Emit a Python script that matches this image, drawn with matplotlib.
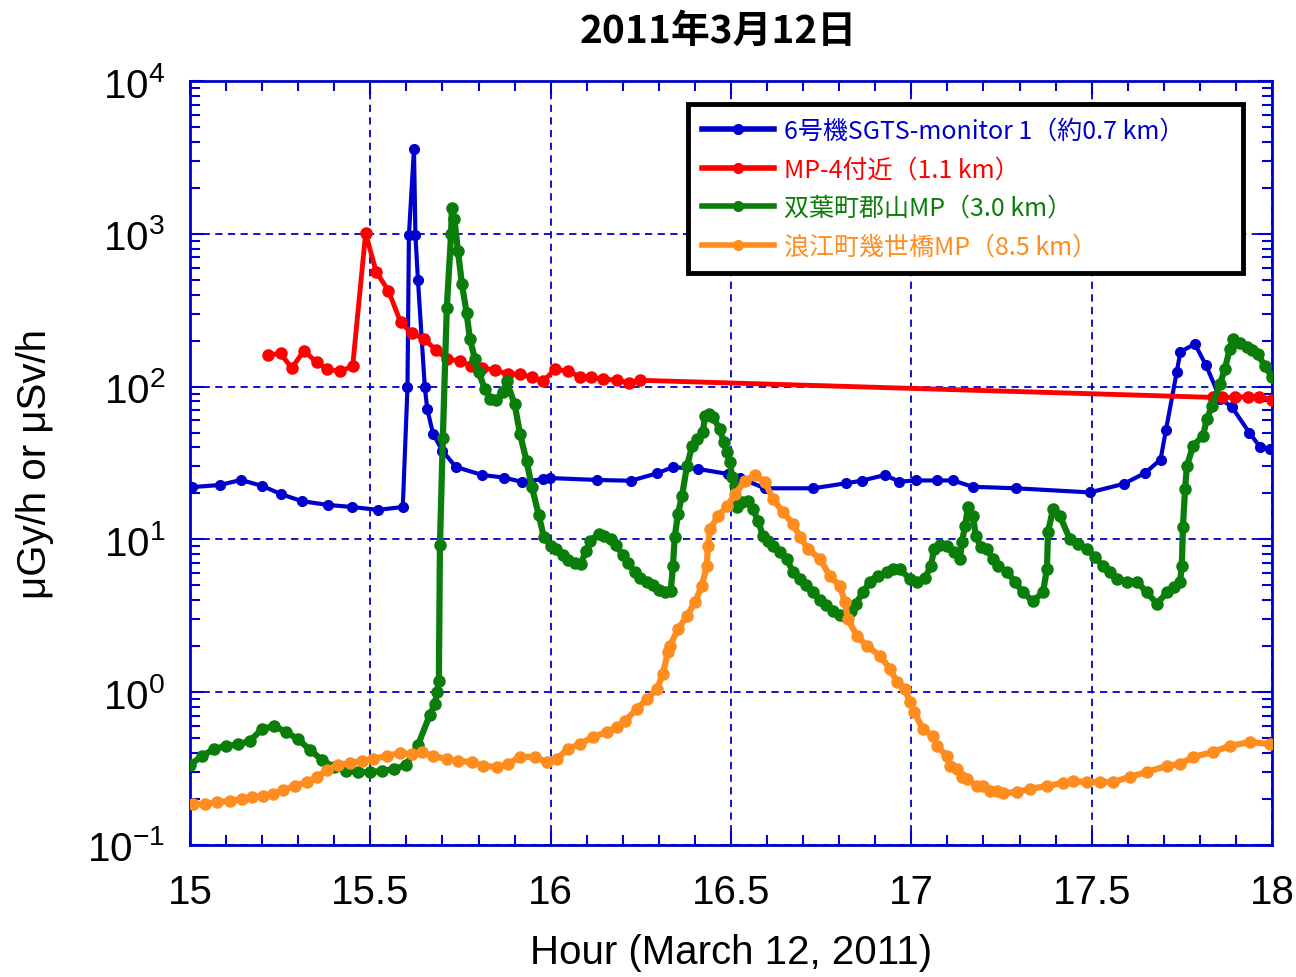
import matplotlib
matplotlib.use("Agg")
import matplotlib.pyplot as plt
from matplotlib.ticker import LogLocator, NullFormatter, MultipleLocator
from matplotlib.lines import Line2D

plt.rcParams['font.family'] = ['Liberation Sans', 'Noto Sans CJK JP', 'DejaVu Sans']
plt.rcParams['mathtext.fontset'] = 'custom'
plt.rcParams['mathtext.rm'] = 'Liberation Sans'
plt.rcParams['mathtext.it'] = 'Liberation Sans:italic'
plt.rcParams['mathtext.bf'] = 'Liberation Sans:bold'

# ---------------- data ----------------
blue_t = [15.006, 15.083, 15.141, 15.200, 15.252, 15.310, 15.383, 15.449, 15.521, 15.590,
          15.603, 15.607, 15.621, 15.625, 15.632, 15.651, 15.658, 15.674, 15.700, 15.737,
          15.810, 15.870, 15.920, 15.979, 15.998, 16.128, 16.222, 16.296, 16.338, 16.409,
          16.492, 16.525, 16.594, 16.728, 16.819, 16.862, 16.927, 16.966, 17.013, 17.070,
          17.116, 17.170, 17.290, 17.495, 17.589, 17.648, 17.691, 17.706, 17.736, 17.746,
          17.786, 17.817, 17.857, 17.888, 17.937, 17.966, 17.994]
blue_v = [22.0, 22.7, 24.5, 22.4, 19.8, 17.8, 16.8, 16.3, 15.6, 16.3,
          99, 980, 3600, 980, 500, 99, 71, 49, 38, 29.8,
          26.4, 25.4, 23.8, 24.8, 25.2, 24.5, 24.2, 27.1, 29.7, 28.9,
          26.8, 25.2, 21.6, 21.6, 23.3, 24.2, 26.4, 23.9, 24.3, 24.3,
          24.3, 22.1, 21.6, 20.3, 23.1, 27.2, 33.3, 52, 125, 169,
          190, 138, 83, 74, 50, 40.5, 39]

red_t = [15.217, 15.251, 15.282, 15.316, 15.351, 15.381, 15.416, 15.451, 15.487, 15.516,
         15.550, 15.584, 15.615, 15.649, 15.681, 15.712, 15.749, 15.779, 15.809, 15.846,
         15.882, 15.915, 15.947, 15.979, 16.012, 16.049, 16.081, 16.112, 16.145, 16.184,
         16.217, 16.248, 17.836, 17.861, 17.897, 17.934, 17.964, 18.000]
red_v = [161, 165, 132, 172, 144, 130, 126, 136, 1010, 565,
         425, 264, 223, 205, 174, 152, 147, 136, 133, 128,
         121, 121, 115, 108, 130, 126, 116, 115, 112, 110,
         106, 110, 85, 85, 85, 86, 86, 82]

green_t = [15.000, 15.033, 15.067, 15.100, 15.133, 15.166, 15.200, 15.233, 15.266, 15.299,
           15.333, 15.366, 15.399, 15.432, 15.466, 15.499, 15.532, 15.566, 15.599, 15.632,
           15.665, 15.679, 15.685, 15.690, 15.693, 15.701, 15.712, 15.724, 15.726, 15.733,
           15.743, 15.754, 15.767, 15.776, 15.790, 15.800, 15.818, 15.833, 15.848, 15.867,
           15.878, 15.900, 15.915, 15.933, 15.948, 15.967, 15.981, 16.000, 16.015, 16.033,
           16.048, 16.067, 16.083, 16.098, 16.109, 16.133, 16.148, 16.167, 16.181, 16.200,
           16.214, 16.233, 16.248, 16.267, 16.284, 16.300, 16.317, 16.333, 16.339, 16.344,
           16.353, 16.364, 16.378, 16.392, 16.406, 16.422, 16.428, 16.439, 16.450, 16.469,
           16.480, 16.489, 16.497, 16.503, 16.511, 16.516, 16.530, 16.547, 16.561, 16.575,
           16.589, 16.602, 16.616, 16.636, 16.655, 16.672, 16.691, 16.708, 16.727, 16.747,
           16.763, 16.783, 16.802, 16.819, 16.833, 16.846, 16.866, 16.885, 16.907, 16.932,
           16.949, 16.968, 16.996, 17.016, 17.038, 17.054, 17.063, 17.079, 17.099, 17.118,
           17.135, 17.140, 17.149, 17.157, 17.171, 17.179, 17.193, 17.210, 17.226, 17.240,
           17.265, 17.287, 17.309, 17.337, 17.365, 17.376, 17.379, 17.393, 17.412, 17.440,
           17.462, 17.487, 17.509, 17.531, 17.551, 17.570, 17.598, 17.625, 17.653, 17.681,
           17.709, 17.728, 17.745, 17.750, 17.753, 17.759, 17.764, 17.781, 17.808, 17.820,
           17.833, 17.856, 17.869, 17.883, 17.892, 17.911, 17.930, 17.944, 17.961, 17.980,
           18.000]
green_v = [0.334, 0.382, 0.425, 0.445, 0.455, 0.480, 0.574, 0.601, 0.549, 0.494,
           0.419, 0.360, 0.324, 0.305, 0.300, 0.300, 0.305, 0.314, 0.334, 0.451,
           0.710, 0.84, 1.0, 1.18, 9.2, 46, 327, 1000, 1476, 1250,
           771, 469, 303, 205, 152, 125, 96, 83, 82, 92,
           108, 77, 49, 32.6, 22, 14.4, 10.4, 9.06, 8.6, 7.9,
           7.3, 7.0, 6.9, 8.4, 9.8, 10.8, 10.6, 10.1, 9.2, 7.9,
           7.0, 6.1, 5.6, 5.3, 5.0, 4.7, 4.5, 4.6, 6.7, 10.4,
           14.7, 19.2, 30.2, 40.8, 45.4, 50.5, 64.2, 66, 63, 52.8,
           43.4, 37.3, 32.1, 25.6, 22.3, 16.3, 17.6, 17.8, 15.8, 13.2,
           10.5, 9.8, 9.1, 8.3, 7.4, 6.1, 5.5, 5.0, 4.5, 4.0,
           3.7, 3.4, 3.2, 3.1, 3.4, 3.8, 4.5, 5.3, 5.8, 6.1,
           6.4, 6.4, 5.5, 5.3, 5.6, 6.7, 8.6, 9.2, 9.1, 8.3,
           7.4, 9.6, 12.2, 16.3, 14.2, 10.5, 8.9, 8.6, 7.4, 6.7,
           6.1, 5.3, 4.5, 3.95, 4.5, 6.4, 11.2, 15.8, 14.2, 10.0,
           9.3, 8.6, 7.7, 6.7, 6.1, 5.5, 5.3, 5.3, 4.5, 3.8,
           4.5, 4.9, 5.3, 6.7, 12.1, 21.4, 30.2, 40.8, 47.5, 61.4,
           74.6, 104, 130, 176, 205, 193, 182, 174, 163, 136,
           116]

orange_t = [15.008, 15.042, 15.075, 15.111, 15.144, 15.172, 15.202, 15.230, 15.258, 15.291,
            15.324, 15.352, 15.380, 15.410, 15.444, 15.477, 15.507, 15.546, 15.582, 15.615,
            15.643, 15.674, 15.712, 15.743, 15.782, 15.812, 15.851, 15.882, 15.915, 15.956,
            15.990, 16.017, 16.048, 16.081, 16.117, 16.156, 16.184, 16.206, 16.239, 16.267,
            16.295, 16.311, 16.325, 16.331, 16.353, 16.378, 16.400, 16.419, 16.433, 16.436,
            16.442, 16.464, 16.489, 16.511, 16.539, 16.566, 16.594, 16.616, 16.644, 16.672,
            16.691, 16.713, 16.747, 16.774, 16.802, 16.816, 16.824, 16.849, 16.877, 16.913,
            16.941, 16.960, 16.982, 16.996, 17.008, 17.032, 17.060, 17.071, 17.099, 17.107,
            17.126, 17.140, 17.154, 17.182, 17.199, 17.218, 17.237, 17.254, 17.293, 17.329,
            17.376, 17.420, 17.448, 17.487, 17.523, 17.559, 17.606, 17.653, 17.709, 17.745,
            17.781, 17.836, 17.883, 17.939, 17.994]
orange_v = [0.185, 0.185, 0.191, 0.194, 0.200, 0.206, 0.209, 0.216, 0.229, 0.243,
            0.258, 0.279, 0.310, 0.334, 0.344, 0.355, 0.366, 0.382, 0.400, 0.394,
            0.406, 0.382, 0.366, 0.355, 0.349, 0.329, 0.324, 0.339, 0.377, 0.377,
            0.349, 0.366, 0.425, 0.458, 0.509, 0.549, 0.592, 0.648, 0.777, 0.903,
            1.05, 1.32, 1.83, 2.01, 2.59, 3.15, 3.89, 4.96, 6.70, 9.06,
            11.7, 14.2, 16.5, 19.8, 24.1, 26.4, 23.8, 18.4, 15.1, 12.6,
            10.4, 8.65, 7.44, 5.76, 4.96, 3.89, 3.01, 2.33, 2.01, 1.73,
            1.42, 1.17, 1.05, 0.863, 0.743, 0.574, 0.517, 0.445, 0.382, 0.329,
            0.314, 0.279, 0.270, 0.243, 0.243, 0.225, 0.225, 0.219, 0.222, 0.233,
            0.243, 0.255, 0.262, 0.258, 0.258, 0.258, 0.279, 0.301, 0.329, 0.339,
            0.377, 0.406, 0.445, 0.472, 0.458]

labels = ['6号機SGTS-monitor 1（約0.7 km）', 'MP-4付近（1.1 km）',
          '双葉町郡山MP（3.0 km）', '浪江町幾世橋MP（8.5 km）']
colors = ['#0000CD', '#FF0000', '#0A7D0A', '#FF8C1E']
xticks = [15, 15.5, 16, 16.5, 17, 17.5, 18]
xticklabels = ['15', '15.5', '16', '16.5', '17', '17.5', '18']
yticks = [0.1, 1, 10, 100, 1000, 10000]
yticklabels = [r'$\mathregular{10^{-1}}$', r'$\mathregular{10^{0}}$', r'$\mathregular{10^{1}}$',
               r'$\mathregular{10^{2}}$', r'$\mathregular{10^{3}}$', r'$\mathregular{10^{4}}$']

# ---------------- figure ----------------
fig = plt.figure(figsize=(12.96, 9.78), dpi=100)
ax = fig.add_axes([190/1296, 1-846/978, (1272-190)/1296, (846-82)/978])

series = [(blue_t, blue_v, 3.0, 7.0), (red_t, red_v, 3.5, 8.0),
          (green_t, green_v, 4.5, 8.0), (orange_t, orange_v, 4.5, 8.0)]
for (t, v, lw, ms), c in zip(series, colors):
    ax.plot(t, v, color=c, lw=lw, marker='o', ms=ms, mec=c, mfc=c, zorder=3)

ax.set_yscale('log')
ax.set_xlim(15, 18)
ax.set_ylim(0.1, 10000)

blue_ax = '#0000CC'
ax.set_xticks(xticks)
ax.set_xticklabels(xticklabels)
ax.xaxis.set_minor_locator(MultipleLocator(0.1))
ax.set_yticks(yticks)
ax.set_yticklabels(yticklabels)
ax.yaxis.set_minor_locator(LogLocator(base=10, subs=range(2, 10), numticks=20))
ax.yaxis.set_minor_formatter(NullFormatter())

ax.tick_params(which='both', direction='in', top=True, right=True, colors=blue_ax,
               labelcolor='black', width=1.5)
ax.tick_params(which='major', length=10, labelsize=29)
ax.tick_params(which='minor', length=7)
ax.tick_params(axis='x', which='major', pad=20)
ax.tick_params(axis='y', which='major', pad=18)

for s in ax.spines.values():
    s.set_color(blue_ax)
    s.set_linewidth(2)

ax.grid(True, which='major', color=blue_ax, linestyle=(0, (4, 3)), linewidth=1.3)
ax.set_axisbelow(True)

ax.set_xlabel('Hour (March 12, 2011)', fontsize=29, labelpad=16)
ax.set_ylabel('μGy/h or μSv/h', fontsize=29, labelpad=24)

fig.text(718/1296, 1-31/978, '2011年3月12日', ha='center', va='center', fontsize=28,
         fontweight='bold', family=['Noto Sans CJK JP', 'DejaVu Sans'])

handles = [Line2D([], [], color=c, lw=4, marker='o', ms=7, mec=c, mfc=c) for c in colors]
leg = ax.legend(handles, labels, loc='upper left',
                bbox_to_anchor=((688-190)/1082, (846-105)/764, (1243-688)/1082, 0.0),
                mode='expand', frameon=True, fancybox=False, framealpha=1,
                edgecolor='black', handlelength=2.9, handletextpad=0.4,
                borderpad=0.55, labelspacing=0.5, borderaxespad=0,
                prop={'family': ['Noto Sans CJK JP', 'DejaVu Sans'], 'size': 18})
leg.get_frame().set_linewidth(3.5)
for txt, c in zip(leg.get_texts(), colors):
    txt.set_color(c)
leg.set_zorder(5)

fig.savefig('out.png', dpi=100)
